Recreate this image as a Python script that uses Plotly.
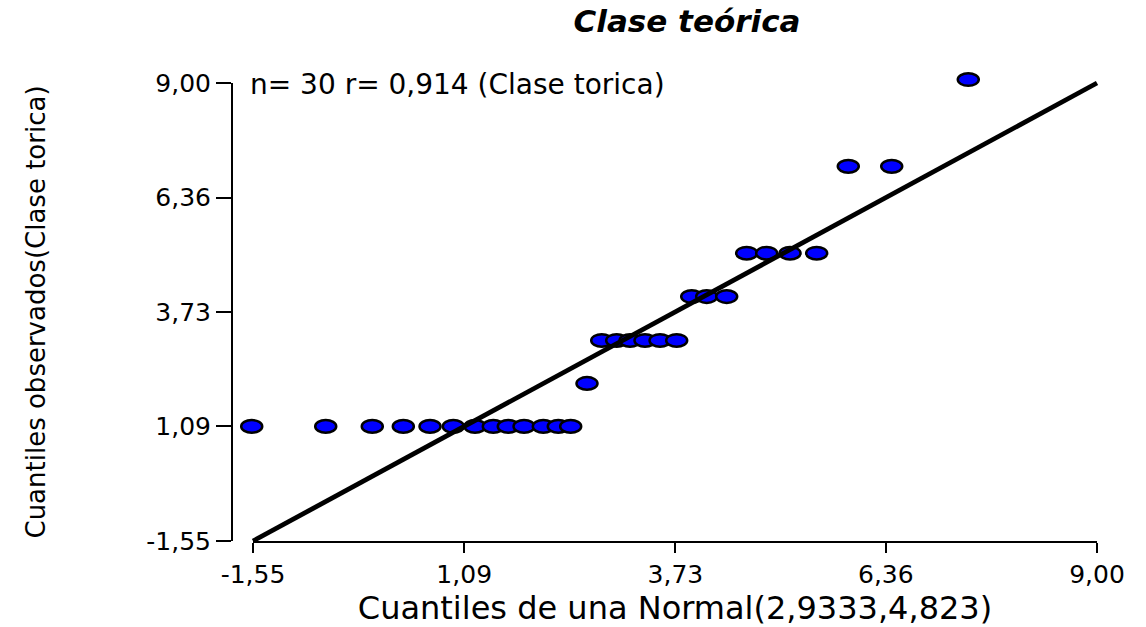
import plotly.graph_objects as go

# ---------------- data ----------------
theoretical_q = [-1.566, -0.641, -0.059, 0.329, 0.663, 0.954, 1.225, 1.454, 1.641, 1.838,
                 2.079, 2.266, 2.421, 2.625, 2.809, 2.996, 3.163, 3.350, 3.538, 3.746,
                 3.934, 4.121, 4.371, 4.621, 4.871, 5.163, 5.496, 5.891, 6.434, 7.391]
observed_q = [1.09] * 13 + [2.08] + [3.07] * 6 + [4.08] * 3 + [5.08] * 4 + [7.08] * 2 + [9.08]

ref_line_x = [-1.55, 9.00]
ref_line_y = [-1.55, 9.00]

tick_vals = [-1.55, 1.09, 3.73, 6.36, 9.00]
tick_text = ["-1,55", "1,09", "3,73", "6,36", "9,00"]

title_text = "Clase teórica"
annot_text = "n= 30 r= 0,914 (Clase torica)"
x_title = "Cuantiles de una Normal(2,9333,4,823)"
y_title = "Cuantiles observados(Clase torica)"

# ---------------- layout geometry ----------------
W, H = 1146, 627
ML, MR, MT, MB = 225, 20, 60, 60
PW, PH = W - ML - MR, H - MT - MB

XR = [-1.55, 9.00]
YR = [-1.55, 9.00]
XD = [(253 - ML) / PW, (1097 - ML) / PW]
YD = [(H - MB - 541) / PH, (H - MB - 83) / PH]
Y_POS = (232 - ML) / PW

# hidden full-area axes sharing the same scale (so marks are not clipped)
sx = (XR[1] - XR[0]) / (XD[1] - XD[0])
sy = (YR[1] - YR[0]) / (YD[1] - YD[0])
X2R = [XR[0] - XD[0] * sx, XR[1] + (1 - XD[1]) * sx]
Y2R = [YR[0] - YD[0] * sy, YR[1] + (1 - YD[1]) * sy]
px_x = PW / (X2R[1] - X2R[0])
px_y = PH / (Y2R[1] - Y2R[0])

RX_PX, RY_PX = 10.5, 6.3
rx, ry = RX_PX / px_x, RY_PX / px_y

FONT = "DejaVu Sans"

fig = go.Figure()

# invisible points on the visible axes (hover)
fig.add_trace(go.Scatter(
    x=theoretical_q, y=observed_q, mode="markers",
    marker=dict(size=16, color="rgba(0,0,0,0)"),
    xaxis="x", yaxis="y", showlegend=False, hoverinfo="x+y", cliponaxis=False))

# reference line
fig.add_trace(go.Scatter(
    x=ref_line_x, y=ref_line_y, mode="lines",
    line=dict(color="black", width=4.8),
    xaxis="x2", yaxis="y2", showlegend=False, hoverinfo="skip"))

shapes = []
for xv, yv in zip(theoretical_q, observed_q):
    shapes.append(dict(
        type="circle", xref="x2", yref="y2", layer="below",
        x0=xv - rx, x1=xv + rx, y0=yv - ry, y1=yv + ry,
        fillcolor="#0000FF", line=dict(color="black", width=2.5)))

axis_common = dict(
    showline=True, linecolor="black", linewidth=2,
    ticks="outside", tickcolor="black", tickwidth=2,
    showgrid=False, zeroline=False, automargin=False,
    tickmode="array", tickvals=tick_vals, ticktext=tick_text,
    tickfont=dict(family=FONT, size=25, color="black"),
)

fig.update_layout(
    width=W, height=H, autosize=False,
    margin=dict(l=ML, r=MR, t=MT, b=MB, autoexpand=False),
    paper_bgcolor="white", plot_bgcolor="rgba(0,0,0,0)",
    title=dict(text="<b><i>" + title_text + "</i></b>", x=687 / W, xanchor="center",
               y=1 - 21 / H, yanchor="middle", xref="container", yref="container",
               font=dict(family=FONT, size=31, color="black")),
    xaxis=dict(domain=XD, range=XR, anchor="y", ticklen=10,
               title=dict(text=x_title, font=dict(family=FONT, size=32, color="black"), standoff=4),
               **axis_common),
    yaxis=dict(domain=YD, range=YR, anchor="free", position=Y_POS, ticklen=15,
               title=dict(text=y_title, font=dict(family=FONT, size=26, color="black"), standoff=92),
               **axis_common),
    xaxis2=dict(domain=[0, 1], range=X2R, anchor="y2", visible=False, fixedrange=True),
    yaxis2=dict(domain=[0, 1], range=Y2R, anchor="x2", visible=False, fixedrange=True),
    shapes=shapes,
    annotations=[dict(text=annot_text, xref="x domain", yref="y domain", x=0, y=1,
                      xanchor="left", yanchor="middle", xshift=-5, yshift=-1, showarrow=False,
                      font=dict(family=FONT, size=28, color="black"))],
    showlegend=False,
)

fig.write_html("out.html")
